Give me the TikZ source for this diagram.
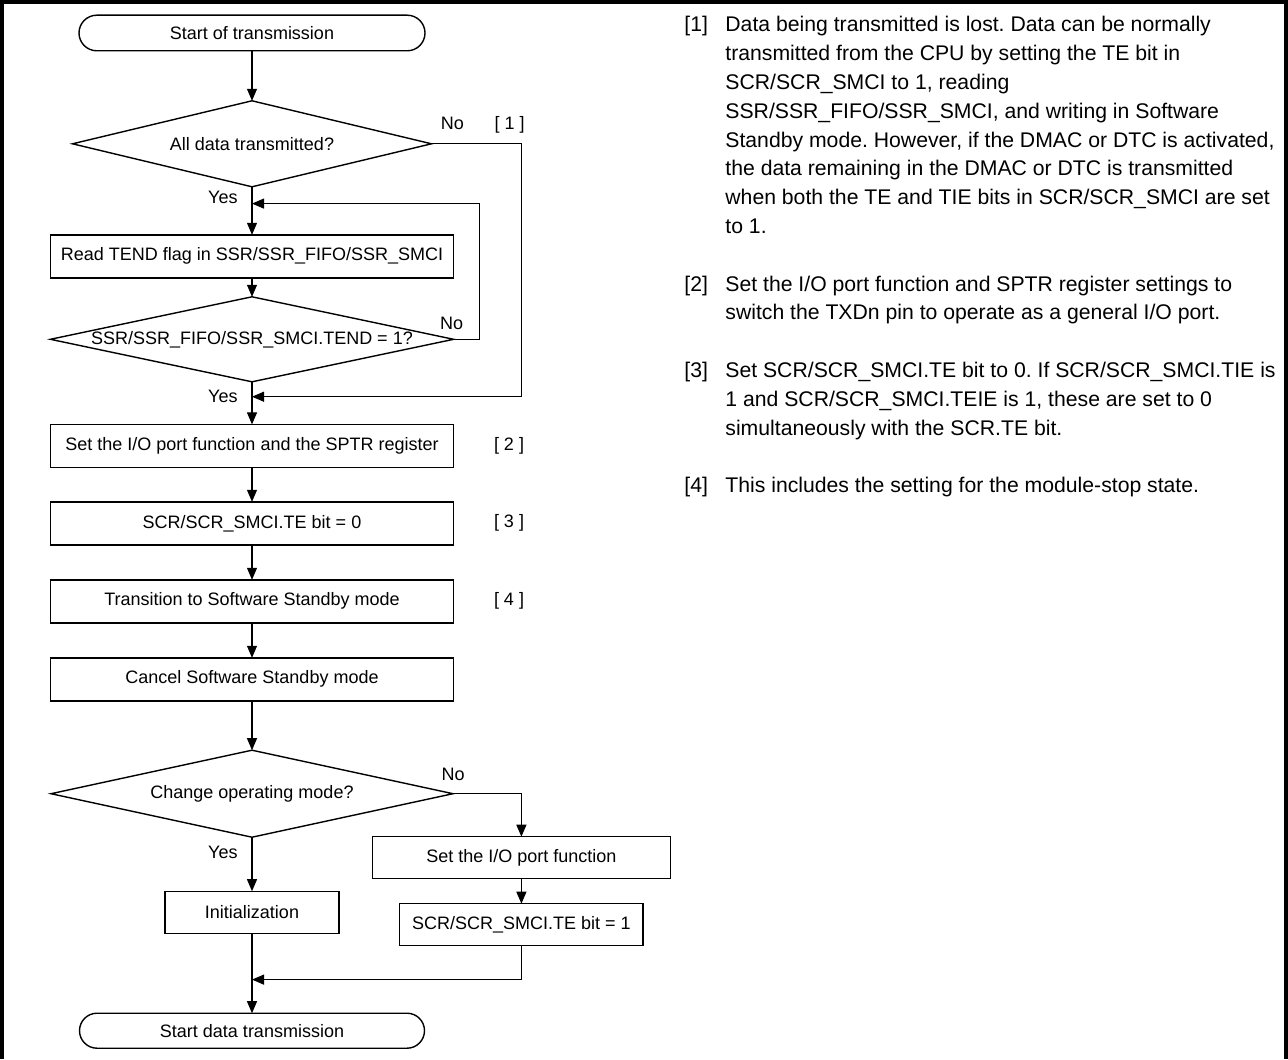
\documentclass[tikz,border=0pt]{standalone}
\usepackage{fontspec}
\setmainfont{Liberation Sans}
\usetikzlibrary{arrows.meta,positioning,calc,shapes.geometric}
\frenchspacing

\tikzset{
  box/.style={draw,line width=0.7pt,outer sep=0pt,minimum width=201.6pt,minimum height=21.5pt,inner sep=1pt},
  terminal/.style={box,rounded corners=8.9pt,minimum height=17.8pt},
  decision/.style={draw,diamond,line width=0.7pt,outer sep=0pt,inner sep=0pt},
  lbl/.style={inner sep=0pt},
  flow/.style={->,line width=0.55pt},
}

\begin{document}
\begin{tikzpicture}[x=0.5pt,y=-0.5pt,>={Triangle[length=6pt,width=5pt]},every node/.style={font=\fontsize{9}{11}\selectfont}]
\useasboundingbox (0,0) rectangle (1288,1059);
\draw[line width=1.6pt] (2,1059) -- (2,2) -- (1286,2) -- (1286,1059);

\node[terminal,minimum width=173pt] (start) at (252,33) {Start of transmission};
\node[decision,minimum width=179.5pt,minimum height=43pt,below=25pt of start,label=center:{All data transmitted?}] (alldone) {};
\node[box,below=24pt of alldone] (readtend) {Read TEND flag in SSR/SSR\_FIFO/SSR\_SMCI};
\node[decision,minimum width=201.6pt,minimum height=42.5pt,below=9.5pt of readtend,label=center:{SSR/SSR\_FIFO/SSR\_SMCI.TEND = 1?}] (tendset) {};
\node[box,below=21.3pt of tendset] (ioport) {Set the I/O port function and the SPTR register};
\node[box,below=17.2pt of ioport] (teclear) {SCR/SCR\_SMCI.TE bit = 0};
\node[box,below=17.5pt of teclear] (standby) {Transition to Software Standby mode};
\node[box,below=17.5pt of standby] (cancel) {Cancel Software Standby mode};
\node[decision,minimum width=201pt,minimum height=43.5pt,below=24.7pt of cancel,label=center:{Change operating mode?}] (modechg) {};
\node[box,minimum width=87pt,minimum height=21pt,below=27pt of modechg] (initial) {Initialization};
\node[box,minimum width=149pt,minimum height=21pt,below=21.5pt of modechg.east,xshift=34.2pt] (ioport2) {Set the I/O port function};
\node[box,minimum width=121.7pt,minimum height=21pt,below=12.5pt of ioport2] (teset) {SCR/SCR\_SMCI.TE bit = 1};
\node[terminal,minimum width=172.5pt,minimum height=17.5pt,rounded corners=8.75pt,below=40pt of initial] (finish) {Start data transmission};

\coordinate (backin) at ($(alldone.south)!0.35!(readtend.north)$);
\coordinate (skipin) at ($(tendset.south)!0.35!(ioport.north)$);
\coordinate (joinin) at ($(initial.south)!0.58!(finish.north)$);

\draw[flow] (start) -- (alldone);
\draw[flow] (alldone) -- (readtend);
\draw[flow] (readtend) -- (tendset);
\draw[flow] (tendset) -- (ioport);
\draw[flow] (ioport) -- (teclear);
\draw[flow] (teclear) -- (standby);
\draw[flow] (standby) -- (cancel);
\draw[flow] (cancel) -- (modechg);
\draw[flow] (modechg) -- (initial);
\draw[flow] (initial) -- (finish);
\draw[flow] (tendset.east) -- ++(13pt,0) |- (backin);
\draw[flow] (alldone.east) -- ++(44.8pt,0) |- (skipin);
\draw[flow] (modechg.east) -| (ioport2);
\draw[flow] (ioport2) -- (teset);
\draw[flow] (teset) |- (joinin);

\node[lbl,above right=6.7pt and 4.5pt of alldone.east] (no1) {No};
\node[lbl,base right=14.9pt of no1] (ref1) {[ 1 ]};
\node[lbl,below left=2.2pt and 7pt of alldone.south] (yes1) {Yes};
\node[lbl,above=4.7pt of tendset.east,xshift=-1pt] (no2) {No};
\node[lbl,below left=4.2pt and 7pt of tendset.south] (yes2) {Yes};
\node[lbl,above=6.5pt of modechg.east] (no3) {No};
\node[lbl,below left=4.2pt and 7pt of modechg.south] (yes3) {Yes};
\node[lbl,right=20pt of ioport] (ref2) {[ 2 ]};
\node[lbl,right=20pt of teclear] (ref3) {[ 3 ]};
\node[lbl,right=20pt of standby] (ref4) {[ 4 ]};

\node[anchor=north west,inner sep=0pt,font=\fontsize{10.6}{14.4}\selectfont] (notes) at (684,11.4) {\begin{tabular}{@{}p{20.5pt}@{}l@{}}
{[1]} & Data being transmitted is lost. Data can be normally\\
 & transmitted from the CPU by setting the TE bit in\\
 & SCR/SCR\_SMCI to 1, reading\\
 & SSR/SSR\_FIFO/SSR\_SMCI, and writing in Software\\
 & Standby mode. However, if the DMAC or DTC is activated,\\
 & the data remaining in the DMAC or DTC is transmitted\\
 & when both the TE and TIE bits in SCR/SCR\_SMCI are set\\
 & to 1.\\
 & \\
{[2]} & Set the I/O port function and SPTR register settings to\\
 & switch the TXDn pin to operate as a general I/O port.\\
 & \\
{[3]} & Set SCR/SCR\_SMCI.TE bit to 0. If SCR/SCR\_SMCI.TIE is\\
 & 1 and SCR/SCR\_SMCI.TEIE is 1, these are set to 0\\
 & simultaneously with the SCR.TE bit.\\
 & \\
{[4]} & This includes the setting for the module-stop state.
\end{tabular}};
\end{tikzpicture}
\end{document}
